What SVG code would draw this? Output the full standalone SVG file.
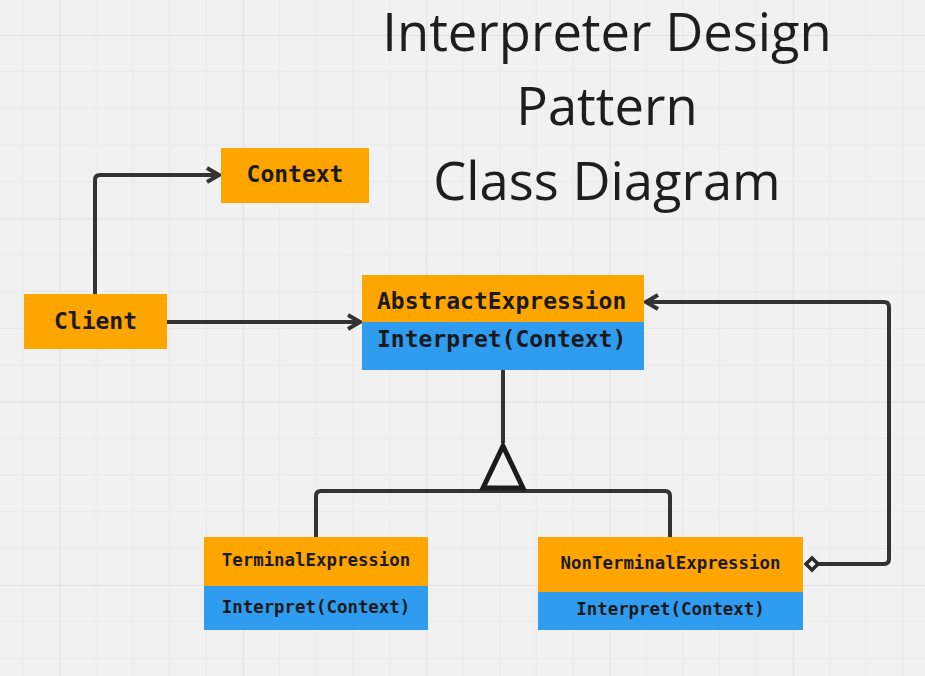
<svg xmlns="http://www.w3.org/2000/svg" width="925" height="676" viewBox="0 0 925 676">
  <defs>
    <pattern id="grid" x="59.5" y="35" width="183.33" height="183.33" patternUnits="userSpaceOnUse">
      <g stroke="#eaeaea" stroke-width="1">
        <path d="M36.67,0 V183.33 M73.33,0 V183.33 M110,0 V183.33 M146.67,0 V183.33"/>
        <path d="M0,36.67 H183.33 M0,73.33 H183.33 M0,110 H183.33 M0,146.67 H183.33"/>
      </g>
      <path d="M0.5,0 V183.33 M0,0.5 H183.33" stroke="#e0e0e0" stroke-width="1.2"/>
    </pattern>
    <marker id="arrow" markerUnits="userSpaceOnUse" markerWidth="20" markerHeight="20" refX="15" refY="10" orient="auto">
      <path d="M3,3 L15,10 L3,17" fill="none" stroke="#333333" stroke-width="4" stroke-linejoin="miter"/>
    </marker>
    <style>
      .orange { fill: #ffa500; }
      .blue { fill: #2f9cf0; }
      .lbl { font-family: "DejaVu Sans Mono", "Liberation Mono", monospace; font-weight: bold; fill: #1a1a1a; }
      .big { font-size: 23px; }
      .small { font-size: 17.4px; }
      .title { font-family: "Open Sans", "Noto Sans", sans-serif; font-size: 52.5px; fill: #1e1e1e; text-anchor: middle; }
      .conn { fill: none; stroke: #333333; stroke-width: 4; stroke-linecap: butt; stroke-linejoin: round; }
    </style>
  </defs>

  <rect x="0" y="0" width="925" height="676" fill="#f1f1f1"/>
  <rect x="0" y="0" width="925" height="676" fill="url(#grid)"/>

  <g id="title">
    <text class="title" x="607" y="51">Interpreter Design</text>
    <text class="title" x="607" y="125">Pattern</text>
    <text class="title" x="607" y="200">Class Diagram</text>
  </g>

  <g id="connectors">
    <path class="conn" d="M95,294 V180 Q95,175 100,175 H219" marker-end="url(#arrow)"/>
    <path class="conn" d="M167,322 H360" marker-end="url(#arrow)"/>
    <path class="conn" d="M818,564 H884 Q889,564 889,559 V307 Q889,302 884,302 H646" marker-end="url(#arrow)"/>
    <path d="M806,564 L812,558 L818,564 L812,570 Z" fill="#f2f2f2" stroke="#2a2a2a" stroke-width="3.5" stroke-linejoin="miter"/>
    <path class="conn" d="M503,370 V443"/>
    <path class="conn" d="M316,537 V496 Q316,491 321,491 H665 Q670,491 670,496 V537"/>
    <polygon points="503,446 483,488 523,488" fill="#f2f2f2" stroke="#1c1c1c" stroke-width="5" stroke-linejoin="miter"/>
  </g>

  <g id="context">
    <rect class="orange" x="221" y="148" width="148" height="55"/>
    <text class="lbl big" x="295" y="182" text-anchor="middle">Context</text>
  </g>

  <g id="client">
    <rect class="orange" x="24" y="294" width="143" height="55"/>
    <text class="lbl big" x="95.5" y="329" text-anchor="middle">Client</text>
  </g>

  <g id="abstract-expression">
    <rect class="orange" x="362" y="275" width="282" height="47"/>
    <rect class="blue" x="362" y="322" width="282" height="48"/>
    <text class="lbl big" x="377" y="309">AbstractExpression</text>
    <text class="lbl big" x="377" y="347">Interpret(Context)</text>
  </g>

  <g id="terminal-expression">
    <rect class="orange" x="204" y="537" width="224" height="49"/>
    <rect class="blue" x="204" y="586" width="224" height="44"/>
    <text class="lbl small" x="316" y="566" text-anchor="middle">TerminalExpression</text>
    <text class="lbl small" x="316" y="613" text-anchor="middle">Interpret(Context)</text>
  </g>

  <g id="nonterminal-expression">
    <rect class="orange" x="538" y="537" width="265" height="55"/>
    <rect class="blue" x="538" y="592" width="265" height="38"/>
    <text class="lbl small" x="670.5" y="569" text-anchor="middle">NonTerminalExpression</text>
    <text class="lbl small" x="670.5" y="615" text-anchor="middle">Interpret(Context)</text>
  </g>
</svg>
